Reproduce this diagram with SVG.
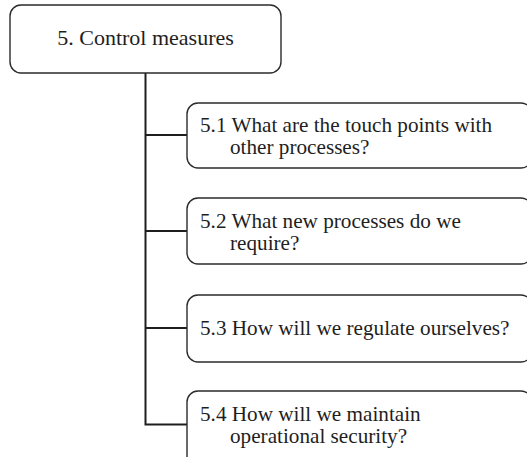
<svg xmlns="http://www.w3.org/2000/svg" width="527" height="457" viewBox="0 0 527 457">
  <style>
    .box { fill: #ffffff; stroke: #2b2b2b; stroke-width: 1.4; }
    .wire { fill: none; stroke: #1e1e1e; stroke-width: 2; }
    .label { font-family: "Liberation Serif", "Times New Roman", serif; font-size: 21.2px; fill: #1e1e1e; }
    .title { font-size: 22px; }
  </style>
  <rect width="527" height="457" fill="#ffffff"/>

  <!-- tree connectors -->
  <g id="connectors">
    <path class="wire" d="M145.5 73 V424.5 M145.5 135 H187 M145.5 231 H187 M145.5 328 H187 M144.5 424.5 H187"/>
  </g>

  <g id="node-5">
    <rect class="box" x="10" y="5" width="271" height="68" rx="11"/>
    <text class="label title" x="145.5" y="45" text-anchor="middle">5. Control measures</text>
  </g>

  <g id="node-5-1">
    <rect class="box" x="187" y="103" width="345" height="65" rx="11"/>
    <text class="label" x="200" y="132">5.1 What are the touch points with</text>
    <text class="label" x="230" y="154">other processes?</text>
  </g>

  <g id="node-5-2">
    <rect class="box" x="187" y="198" width="345" height="66" rx="11"/>
    <text class="label" x="200" y="228">5.2 What new processes do we</text>
    <text class="label" x="230" y="250">require?</text>
  </g>

  <g id="node-5-3">
    <rect class="box" x="187" y="295" width="345" height="67" rx="11"/>
    <text class="label" x="200" y="335">5.3 How will we regulate ourselves?</text>
  </g>

  <g id="node-5-4">
    <rect class="box" x="187" y="391" width="345" height="80" rx="11"/>
    <text class="label" x="200" y="421">5.4 How will we maintain</text>
    <text class="label" x="230" y="443">operational security?</text>
  </g>
</svg>
